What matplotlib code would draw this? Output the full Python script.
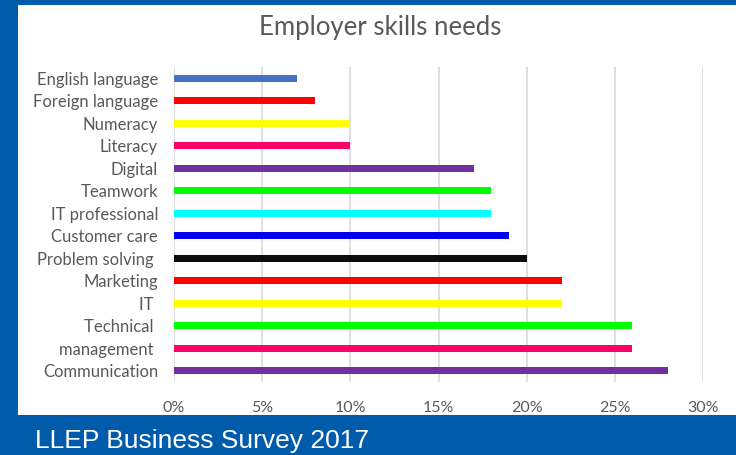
# ____________________________________________________________
# import modules

import matplotlib.pyplot as plt
from matplotlib.patches import Rectangle
from matplotlib.ticker import PercentFormatter


# ____________________________________________________________
# data

skills = ['English language', 'Foreign language', 'Numeracy', 'Literacy',
          'Digital', 'Teamwork', 'IT professional', 'Customer care',
          'Problem solving ', 'Marketing', 'IT ', 'Technical ',
          'management ', 'Communication']
share = [7, 8, 10, 10, 17, 18, 18, 19, 20, 22, 22, 26, 26, 28]
colours = ['#4472C4', '#FF0000', '#FFFF00', '#FF0066', '#7030A0', '#00FF00',
           '#00FFFF', '#0000F0', '#0D0D0D', '#FF0000', '#FFFF00', '#00FF00',
           '#FF0066', '#7030A0']
xticks = [0, 5, 10, 15, 20, 25, 30]


# ____________________________________________________________
# plot

plt.rcParams['font.family'] = ['Lato', 'DejaVu Sans']

fig = plt.figure(figsize=(7.36, 4.55), dpi=100)
fig.patch.set_facecolor('#005BAA')
fig.add_artist(Rectangle((18 / 736, 40 / 455), 1 - 18 / 736, 410 / 455,
                         transform=fig.transFigure, facecolor='white',
                         edgecolor='none', zorder=-5))

ax = fig.add_axes([174 / 736, 1 - 382 / 455, 529 / 736, 315 / 455])
ax.set_zorder(2)
ax.set_facecolor('none')
ax.barh(range(len(skills)), share, height=0.33, color=colours, zorder=3)

ax.set_xlim(0, 30)
ax.set_ylim(len(skills) - 0.5, -0.5)
ax.set_xticks(xticks)
ax.xaxis.set_major_formatter(PercentFormatter(decimals=0))
ax.set_yticks(range(len(skills)))
ax.set_yticklabels(skills)
ax.tick_params(length=0, labelsize=12, colors='#595959')
ax.tick_params(axis='x', labelsize=11.5, pad=14)
ax.tick_params(axis='y', pad=11.5)
ax.grid(axis='x', color='#D9D9D9', lw=1.2, zorder=0)
for s in ax.spines.values():
    s.set_visible(False)

fig.text(380 / 736, 1 - 28 / 455, 'Employer skills needs', ha='center',
         va='center', fontsize=18.5, color='#595959')
fig.text(35 / 736, 1 - 441 / 455, 'LLEP Business Survey 2017', ha='left',
         va='center', fontsize=19, color='white', family='Liberation Sans')

fig.savefig('out.png', dpi=100, facecolor=fig.get_facecolor())
